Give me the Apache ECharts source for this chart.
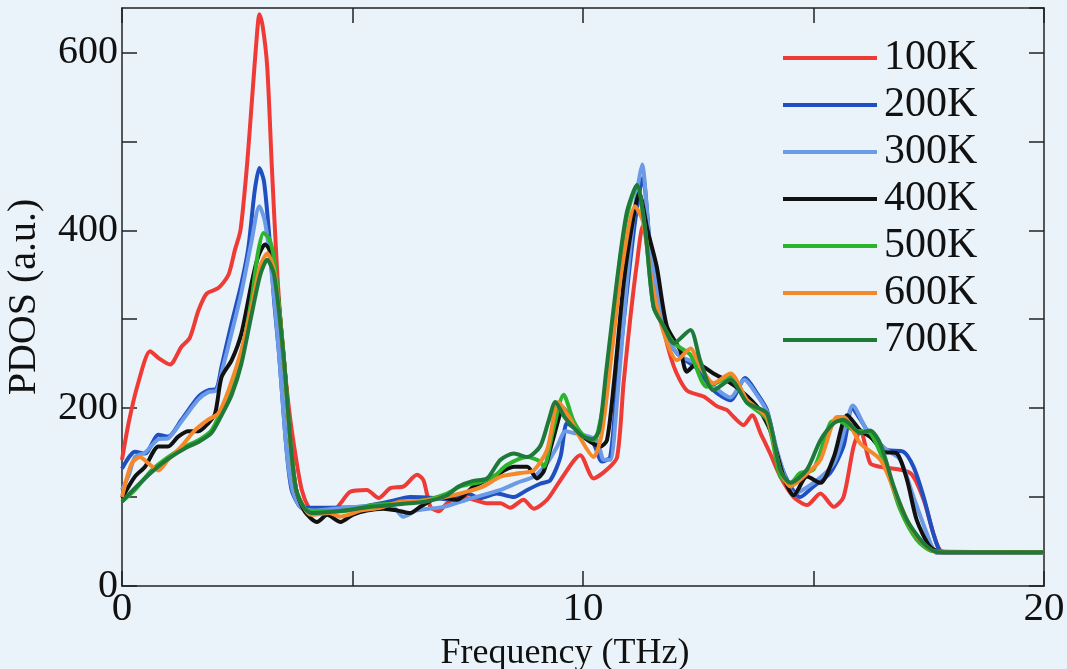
<!DOCTYPE html>
<html>
<head>
<meta charset="utf-8">
<title>PDOS</title>
<script src="https://cdn.jsdelivr.net/npm/echarts@6/dist/echarts.min.js"></script>
<style>
  html, body { margin: 0; padding: 0; background: #ebf3fa; }
  #chart { width: 1067px; height: 669px; }
</style>
</head>
<body>
<div id="chart"></div>
<script>
// Phonon density of states at several temperatures: [frequency (THz), PDOS (a.u.)]
const seriesNames = ['100K', '200K', '300K', '400K', '500K', '600K', '700K'];

const pdos100K = [
  [0,142],[0.15,185],[0.35,228],[0.61,264],[0.8,256],[1.04,249],[1.29,269],[1.47,279],[1.66,310],[1.84,329],
  [2.09,335],[2.31,350],[2.45,378],[2.57,400],[2.71,472],[2.82,547],[2.93,622],[2.98,643],[3.05,630],[3.15,584],
  [3.25,472],[3.36,359],[3.47,277],[3.62,200],[3.77,145],[3.9,108],[4.05,88],[4.15,85],[4.6,85],[4.74,93],
  [4.95,106],[5.31,108],[5.57,99],[5.82,110],[6.11,112],[6.4,125],[6.54,119],[6.69,89],[6.87,84],[7.05,93],
  [7.3,100],[7.63,97],[7.92,93],[8.21,93],[8.42,88],[8.71,97],[8.93,87],[9.22,97],[9.51,119],[9.94,147],
  [10.23,121],[10.52,131],[10.74,145],[10.88,228],[11.03,303],[11.17,363],[11.3,405],[11.45,375],[11.7,300],
  [11.97,247],[12.25,220],[12.62,213],[12.91,202],[13.12,198],[13.27,190],[13.48,181],[13.67,192],[13.85,172],
  [14.06,149],[14.28,123],[14.57,100],[14.86,91],[15.15,104],[15.44,89],[15.65,100],[15.87,157],[16.02,175],
  [16.23,138],[16.45,134],[17.1,127],[17.39,97],[17.6,59],[17.75,40],[18,38],[20,38]
];

const pdos200K = [
  [0,132],[0.28,151],[0.5,149],[0.79,170],[1.0,168],[1.29,187],[1.66,213],[1.87,220],[2.05,222],[2.16,247],
  [2.38,296],[2.59,340],[2.74,380],[2.88,445],[2.98,470],[3.08,455],[3.2,390],[3.3,320],[3.4,265],[3.57,153],
  [3.68,108],[3.85,90],[4.0,88],[4.5,88],[5.17,89],[5.8,95],[6.25,100],[6.76,99],[7.19,97],[7.48,104],
  [7.77,99],[8.13,104],[8.5,100],[8.79,108],[9.07,115],[9.29,119],[9.51,145],[9.65,183],[9.8,178],[9.94,172],
  [10.23,160],[10.41,140],[10.59,145],[10.74,228],[10.95,330],[11.13,410],[11.3,460],[11.46,380],[11.68,314],
  [11.9,273],[12.11,258],[12.47,245],[12.83,220],[13.2,209],[13.52,234],[13.77,217],[13.99,198],[14.21,150],
  [14.43,119],[14.71,100],[15.0,112],[15.36,127],[15.65,157],[15.84,200],[16.02,187],[16.3,164],[16.59,153],
  [16.95,151],[17.17,134],[17.39,100],[17.6,59],[17.75,39],[18,37],[20,37]
];

const pdos300K = [
  [0,108],[0.15,125],[0.28,145],[0.5,150],[0.79,165],[1.0,166],[1.29,185],[1.66,210],[1.87,218],[2.05,220],
  [2.16,240],[2.38,285],[2.59,330],[2.8,385],[2.98,427],[3.1,410],[3.25,350],[3.4,265],[3.57,153],[3.7,108],
  [3.88,88],[4.2,85],[4.8,88],[5.5,90],[5.9,88],[6.1,78],[6.4,85],[6.98,89],[7.48,97],[8.21,108],[8.57,116],
  [8.93,123],[9.22,138],[9.44,157],[9.62,174],[9.8,172],[10.0,170],[10.3,164],[10.45,142],[10.59,142],
  [10.74,209],[10.95,340],[11.13,427],[11.28,474],[11.46,378],[11.68,314],[11.9,273],[12.11,258],[12.47,250],
  [12.83,225],[13.2,212],[13.5,232],[13.77,215],[13.99,196],[14.21,152],[14.4,120],[14.57,104],[15.0,116],
  [15.44,138],[15.7,180],[15.85,203],[16.16,175],[16.59,153],[16.88,142],[17.17,100],[17.46,59],[17.68,37],
  [18,37],[20,37]
];

const pdos400K = [
  [0,99],[0.28,123],[0.5,134],[0.79,157],[1.0,157],[1.22,168],[1.44,174],[1.66,174],[1.87,183],[2.02,194],
  [2.16,235],[2.38,254],[2.59,284],[2.81,340],[2.95,370],[3.1,384],[3.28,370],[3.5,262],[3.67,153],[3.78,108],
  [3.95,85],[4.1,76],[4.23,72],[4.45,80],[4.74,72],[5.0,80],[5.31,85],[5.67,87],[5.97,85],[6.25,82],[6.47,89],
  [6.9,100],[7.27,97],[7.63,112],[8.06,123],[8.5,134],[8.79,134],[9.0,121],[9.15,129],[9.35,165],[9.58,200],
  [9.8,180],[10.0,168],[10.23,160],[10.38,157],[10.52,164],[10.67,228],[10.88,340],[11.06,404],[11.22,442],
  [11.4,400],[11.6,359],[11.82,292],[12.11,265],[12.25,241],[12.47,250],[12.83,239],[13.27,226],[13.77,202],
  [14.06,175],[14.35,123],[14.57,102],[14.86,123],[15.15,116],[15.44,145],[15.73,192],[16.02,175],[16.27,166],
  [16.52,151],[16.81,149],[17.03,119],[17.24,74],[17.53,44],[17.8,38],[20,38]
];

const pdos500K = [
  [0,95],[0.28,108],[0.64,130],[1.0,145],[1.37,157],[1.66,164],[1.94,175],[2.16,198],[2.38,224],[2.59,262],
  [2.81,322],[2.95,375],[3.07,397],[3.2,390],[3.32,360],[3.5,262],[3.67,153],[3.78,108],[3.95,88],[4.09,84],
  [4.74,84],[5.46,91],[6.04,93],[6.62,97],[7.05,104],[7.34,112],[7.77,117],[8.06,123],[8.35,136],[8.79,145],
  [9.07,140],[9.15,134],[9.35,175],[9.58,215],[9.8,185],[10.0,170],[10.23,164],[10.3,168],[10.52,228],
  [10.74,340],[10.95,415],[11.17,451],[11.35,400],[11.53,314],[11.75,292],[11.97,273],[12.33,260],[12.69,224],
  [13.2,235],[13.56,206],[13.99,187],[14.28,123],[14.5,116],[14.71,127],[15.0,131],[15.36,183],[15.51,187],
  [15.87,175],[16.23,172],[16.59,131],[16.88,86],[17.24,52],[17.6,39],[20,38]
];

const pdos600K = [
  [0,100],[0.21,138],[0.39,145],[0.57,138],[0.79,130],[1.0,142],[1.29,157],[1.58,175],[1.87,187],[2.09,194],
  [2.31,220],[2.59,265],[2.81,314],[3.0,360],[3.15,374],[3.3,355],[3.5,262],[3.67,153],[3.78,108],[3.95,88],
  [4.1,80],[4.5,82],[4.74,78],[5.2,85],[5.6,88],[6.04,95],[6.5,96],[6.9,99],[7.34,104],[7.84,112],[8.21,123],
  [8.64,127],[8.93,130],[9.22,153],[9.47,207],[9.7,190],[9.9,170],[10.23,145],[10.41,172],[10.63,265],
  [10.85,359],[11.13,427],[11.3,410],[11.5,340],[11.75,285],[12.04,254],[12.33,267],[12.54,247],[12.83,228],
  [13.2,239],[13.56,209],[13.99,190],[14.28,130],[14.5,112],[14.79,123],[15.15,142],[15.51,190],[15.65,190],
  [16.02,160],[16.45,142],[16.81,100],[17.1,67],[17.46,44],[17.7,38],[20,38]
];

const pdos700K = [
  [0,95],[0.28,110],[0.64,128],[1.0,143],[1.37,155],[1.66,162],[1.94,172],[2.16,192],[2.38,215],[2.59,250],
  [2.81,305],[3.0,350],[3.15,367],[3.3,350],[3.5,262],[3.67,153],[3.78,108],[3.95,88],[4.1,82],[4.7,84],
  [5.4,89],[6.0,92],[6.6,95],[7.05,102],[7.3,112],[7.6,118],[7.92,121],[8.21,142],[8.5,149],[8.79,145],
  [9.07,157],[9.25,185],[9.4,207],[9.6,190],[9.8,178],[10.0,168],[10.2,165],[10.35,175],[10.5,240],[10.74,345],
  [10.95,420],[11.17,451],[11.35,400],[11.53,314],[11.75,292],[11.97,273],[12.33,288],[12.54,254],[12.83,220],
  [13.2,232],[13.56,206],[13.99,194],[14.28,130],[14.5,116],[14.86,131],[15.15,164],[15.44,183],[15.65,187],
  [16.02,172],[16.23,175],[16.45,160],[16.74,112],[17.03,74],[17.39,48],[17.7,38],[20,38]
];

const seriesData = [pdos100K, pdos200K, pdos300K, pdos400K, pdos500K, pdos600K, pdos700K];
const seriesColors = ['#ef3b36', '#1f4fc0', '#6b9ae6', '#111111', '#2cb52c', '#f5892a', '#1f7a3a'];

const xTickLabels = [0, 10, 20];
const yTickLabels = [0, 200, 400, 600];

const serif = '"Liberation Serif", "DejaVu Serif", serif';
const axisColor = '#222';

const chart = echarts.init(document.getElementById('chart'), null, { renderer: 'canvas' });

const axisLineStyle = { show: true, onZero: false, lineStyle: { color: axisColor, width: 1.5 } };
const tickStyle = { show: true, inside: true, length: 15, lineStyle: { color: axisColor, width: 1.5 } };

const baseX = {
  type: 'value', min: 0, max: 20, interval: 5,
  axisLine: axisLineStyle, axisTick: tickStyle, splitLine: { show: false }
};
const baseY = {
  type: 'value', min: 0, max: 650, interval: 100,
  axisLine: axisLineStyle, axisTick: tickStyle, splitLine: { show: false }
};

chart.setOption({
  backgroundColor: '#ebf3fa',
  animation: false,
  grid: { left: 122, right: 23, top: 8, bottom: 83, outerBoundsMode: 'none', containLabel: false },
  legend: {
    orient: 'vertical',
    left: 778, top: 32,
    icon: 'rect',
    itemWidth: 94, itemHeight: 4,
    itemGap: 5,
    textStyle: { fontFamily: serif, fontSize: 42, lineHeight: 42, color: '#111', padding: [0, 0, 0, 2] },
    data: seriesNames
  },
  xAxis: [
    Object.assign({}, baseX, {
      position: 'bottom',
      name: 'Frequency (THz)',
      nameLocation: 'middle',
      nameGap: 50,
      nameTextStyle: { fontFamily: serif, fontSize: 36, color: '#111', padding: [0, 36, 0, 0] },
      axisLabel: {
        show: true, margin: 3, fontFamily: serif, fontSize: 41, color: '#111',
        formatter: v => (xTickLabels.indexOf(v) >= 0 ? String(v) : '')
      }
    }),
    Object.assign({}, baseX, { position: 'top', axisLabel: { show: false } })
  ],
  yAxis: [
    Object.assign({}, baseY, {
      position: 'left',
      name: 'PDOS (a.u.)',
      nameLocation: 'middle',
      nameGap: 78,
      nameRotate: 90,
      nameTextStyle: { fontFamily: serif, fontSize: 40, color: '#111' },
      axisLabel: {
        show: true, margin: 4, fontFamily: serif, fontSize: 40, color: '#111',
        showMaxLabel: false,
        formatter: v => (yTickLabels.indexOf(v) >= 0 ? String(v) : '')
      }
    }),
    Object.assign({}, baseY, { position: 'right', axisLabel: { show: false } })
  ],
  series: seriesNames.map((name, i) => ({
    name: name,
    type: 'line',
    xAxisIndex: 0,
    yAxisIndex: 0,
    data: seriesData[i],
    showSymbol: false,
    smooth: 0.25,
    color: seriesColors[i],
    lineStyle: { width: 4, color: seriesColors[i] }
  }))
});
</script>
</body>
</html>
